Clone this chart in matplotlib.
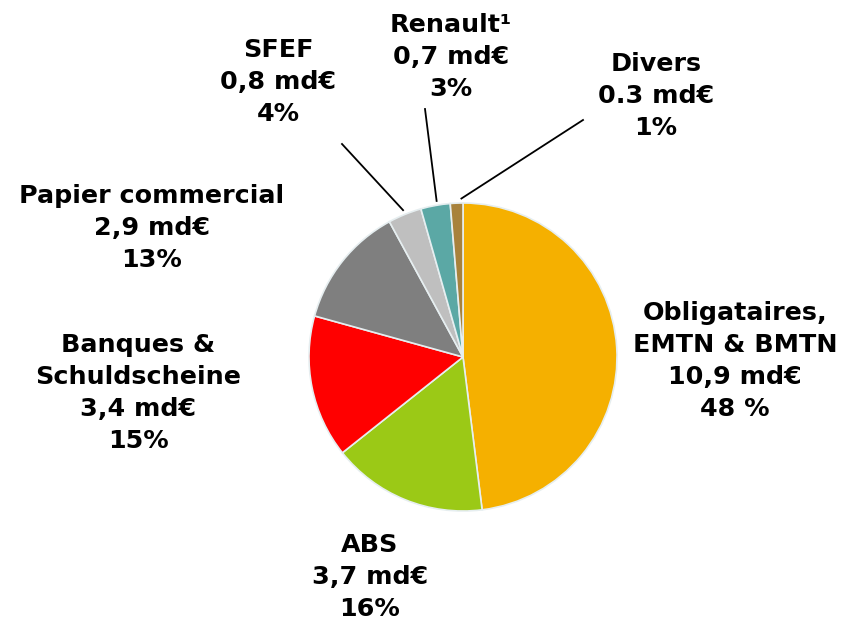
import matplotlib
matplotlib.use("Agg")
import matplotlib.pyplot as plt
import numpy as np

# Data
categories = ["Obligataires,\nEMTN & BMTN", "ABS", "Banques &\nSchuldscheine",
              "Papier commercial", "SFEF", "Renault¹", "Divers"]
amounts = [10.9, 3.7, 3.4, 2.9, 0.8, 0.7, 0.3]
amount_labels = ["10,9 md€", "3,7 md€", "3,4 md€", "2,9 md€", "0,8 md€", "0,7 md€", "0.3 md€"]
pct_labels = ["48 %", "16%", "15%", "13%", "4%", "3%", "1%"]
colors = ["#F5B000", "#9BC916", "#FF0000", "#7F7F7F", "#BFBFBF", "#5BA8A5", "#A8823C"]

W, H = 841, 624
fig = plt.figure(figsize=(W / 100, H / 100), dpi=100)
ax = fig.add_axes([0, 0, 1, 1])

cx, cy, r = 463, H - 357, 154
wedges, _ = ax.pie(amounts, colors=colors, startangle=90, counterclock=False,
                   center=(cx, cy), radius=r, frame=True,
                   wedgeprops=dict(edgecolor="#E6EEF0", linewidth=1.2))
ax.set_xlim(0, W)
ax.set_ylim(0, H)
ax.set_aspect("equal")
ax.axis("off")

# label text centres (pixel coords, image y from top)
text_pos = [(735, 361), (370, 577), (138, 393), (152, 228), (278, 82), (451, 57), (656, 96)]
# leader line start points for small slices
leader_start = {4: (342, 144), 5: (425, 109), 6: (583, 120)}
leader_shift = {4: 0, 5: 2, 6: 5}

for i, (cat, am, pc) in enumerate(zip(categories, amount_labels, pct_labels)):
    x, y = text_pos[i]
    ax.text(x, H - y, f"{cat}\n{am}\n{pc}", ha="center", va="center",
            fontsize=18.3, fontweight="bold", family="DejaVu Sans",
            linespacing=1.42, color="black")
    if i in leader_start:
        w = wedges[i]
        th = np.deg2rad((w.theta1 + w.theta2) / 2)
        ex = cx + r * 1.03 * np.cos(th) + leader_shift[i]
        ey = cy + r * 1.03 * np.sin(th)
        sx, sy = leader_start[i]
        ax.plot([sx, ex], [H - sy, ey], color="black", lw=1.3)

fig.savefig("out.png", dpi=100)
